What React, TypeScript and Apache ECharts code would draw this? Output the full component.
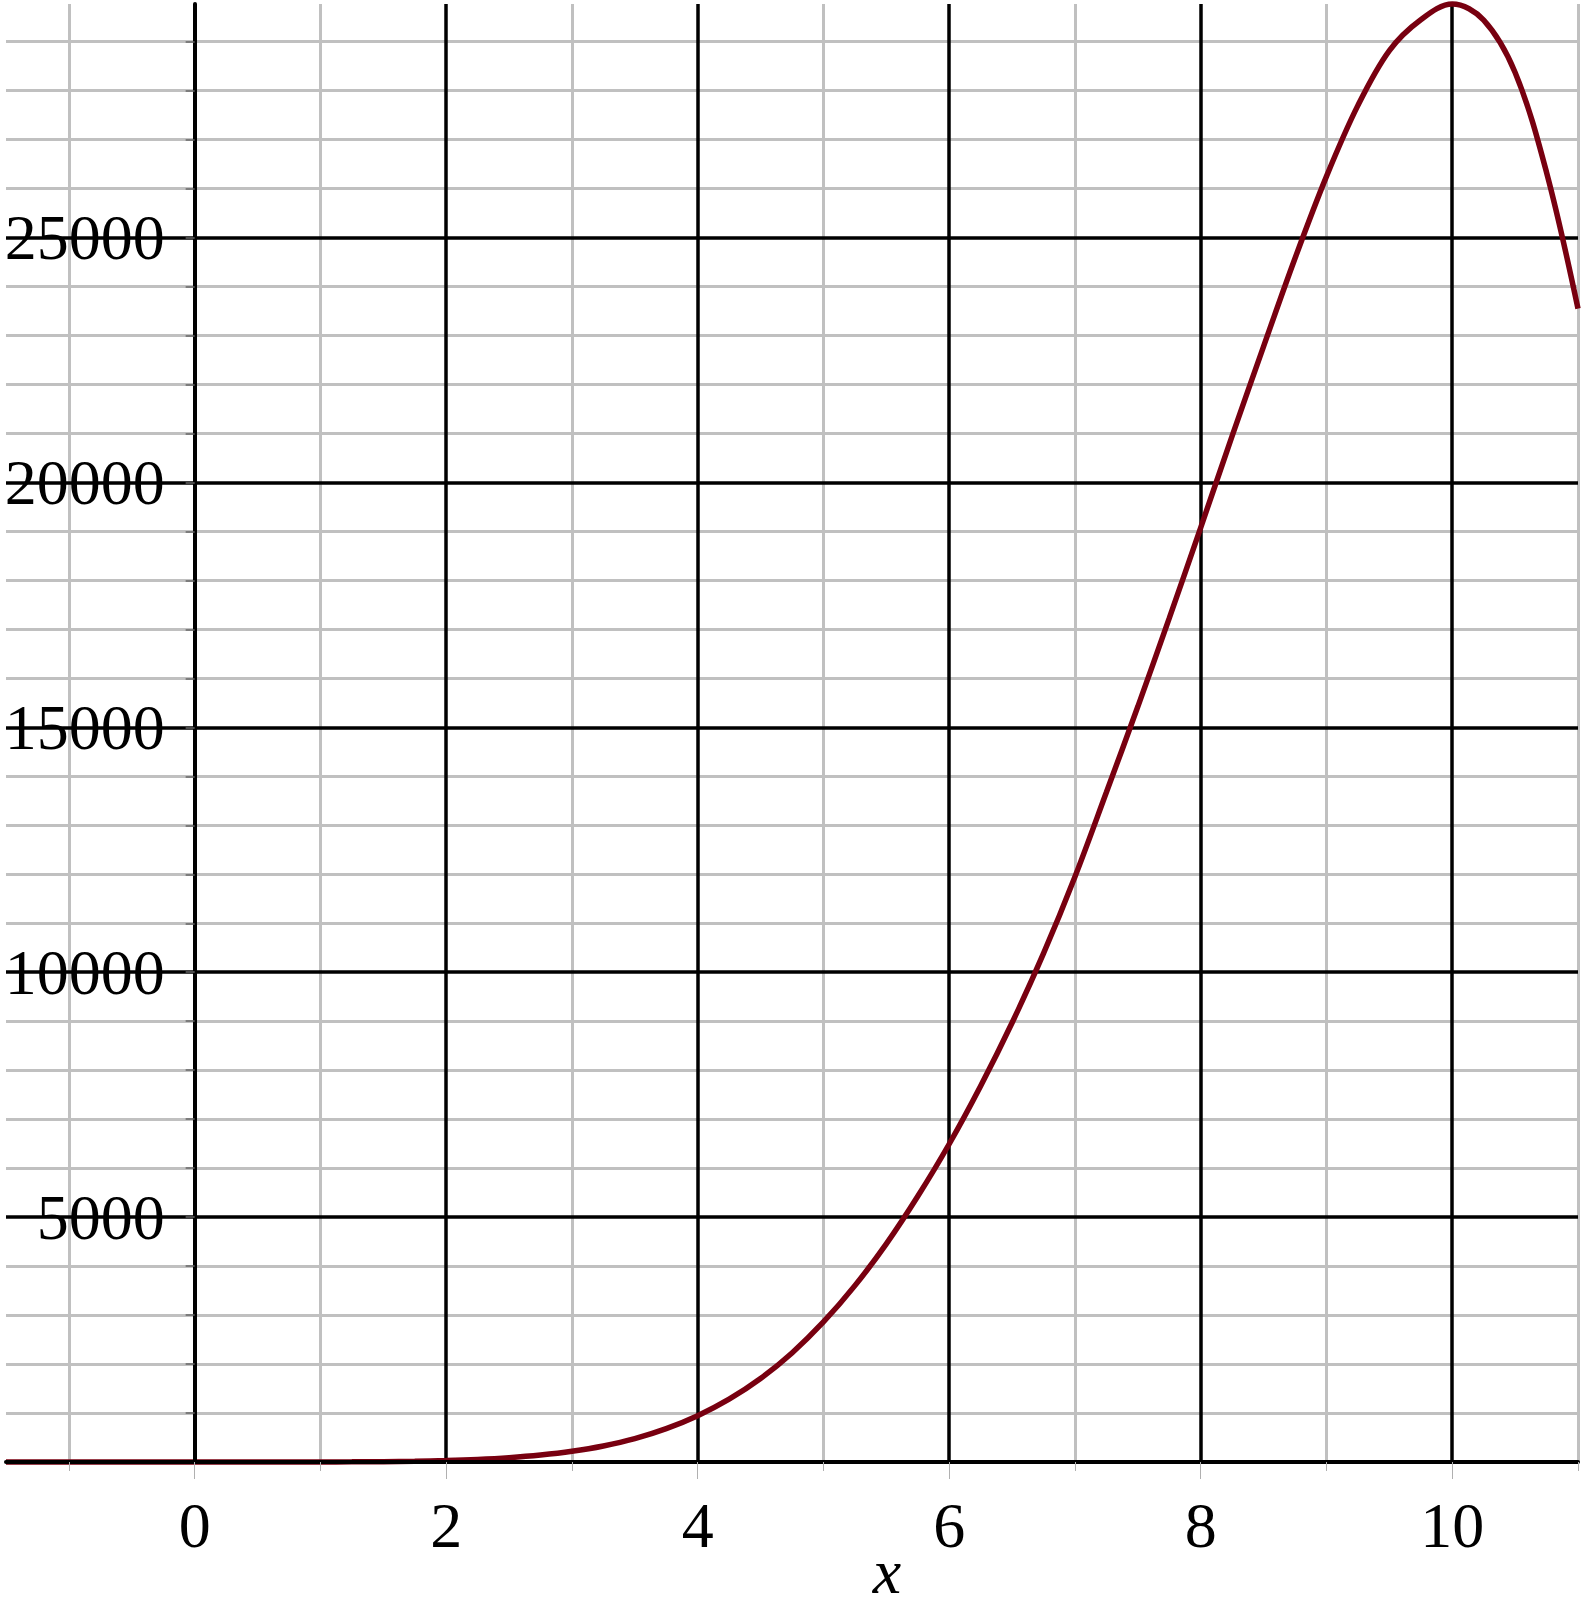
import React, { useEffect, useRef } from "react";
import * as echarts from "echarts";

// Curve samples
const curveX = [
  -1.5, -1, -0.5, 0, 0.5, 1, 1.25, 1.5, 1.75, 2, 2.25, 2.5, 2.75, 3, 3.25, 3.5, 3.75, 4,
  4.25, 4.5, 4.75, 5, 5.25, 5.5, 5.75, 6, 6.25, 6.5, 6.75, 7, 7.25, 7.5, 7.75, 8, 8.25,
  8.5, 8.75, 9, 9.25, 9.5, 9.75, 10, 10.25, 10.5, 10.75, 11,
];
const curveY = [
  0, 0, 0, 0, 0, 1, 3, 7, 15, 29, 52, 88, 142, 219, 328, 478, 682, 946,
  1283, 1705, 2227, 2859, 3601, 4454, 5425, 6493, 7677, 8969, 10384, 11950, 13675, 15425, 17229, 19080, 20950,
  22780, 24578, 26250, 27700, 28820, 29450, 29770, 29440, 28370, 26330, 23550,
];

const X_MIN = -1.5;
const X_MAX = 11;
const Y_MIN = 0;
const Y_MAX = 29770;

const xMinorLines = [-1, 1, 3, 5, 7, 9, 11];
const xMajorLines = [2, 4, 6, 8, 10];
const yMinorLines = [
  1000, 2000, 3000, 4000, 6000, 7000, 8000, 9000, 11000, 12000, 13000, 14000,
  16000, 17000, 18000, 19000, 21000, 22000, 23000, 24000, 26000, 27000, 28000, 29000,
];
const yMajorLines = [5000, 10000, 15000, 20000, 25000];

const xMinorTicks = [-1, 1, 3, 5, 7, 9, 11];
const xMajorTicks = [0, 2, 4, 6, 8, 10];
const xTickLabels = [0, 2, 4, 6, 8, 10];
const yTicks = [
  1000, 2000, 3000, 4000, 5000, 6000, 7000, 8000, 9000, 10000, 11000, 12000, 13000, 14000, 15000,
  16000, 17000, 18000, 19000, 20000, 21000, 22000, 23000, 24000, 25000, 26000, 27000, 28000, 29000,
];
const yTickLabels = [5000, 10000, 15000, 20000, 25000];

const FONT = '"Liberation Serif", "Times New Roman", serif';

const GRID_LEFT = 6;
const GRID_RIGHT = 5;
const PLOT_W = 1583 - GRID_LEFT - GRID_RIGHT;

export default function App() {
  const ref = useRef<HTMLDivElement>(null);

  useEffect(() => {
    if (!ref.current) return;
    const chart = echarts.init(ref.current, null, { renderer: "svg" });
    // y axis sits at x = 0 of the x axis
    const yAxisShift = ((0 - X_MIN) / (X_MAX - X_MIN)) * PLOT_W;
    const option: any = {
      animation: false,
      backgroundColor: "#ffffff",
      grid: {
        left: GRID_LEFT,
        right: GRID_RIGHT,
        top: 4,
        bottom: 147,
        containLabel: false,
        outerBoundsMode: "none",
      },
      xAxis: [
        {
          type: "value",
          min: X_MIN,
          max: X_MAX,
          z: 4,
          axisLine: { show: true, onZero: false, lineStyle: { color: "#000", width: 4 } },
          axisTick: { show: true, customValues: xMinorTicks, length: 9, lineStyle: { color: "#b0b0b0", width: 1 } },
          axisLabel: { show: false },
          splitLine: { show: false },
        },
        {
          type: "value",
          min: X_MIN,
          max: X_MAX,
          position: "bottom",
          z: 4,
          axisLine: { show: false, onZero: false },
          axisTick: { show: true, customValues: xMajorTicks, length: 17, lineStyle: { color: "#b0b0b0", width: 1 } },
          axisLabel: {
            show: true,
            customValues: xTickLabels,
            margin: 63,
            fontSize: 64,
            fontFamily: FONT,
            color: "#000",
            verticalAlign: "middle",
            formatter: (v: number) => String(v),
          },
          splitLine: { show: false },
        },
      ],
      yAxis: {
        type: "value",
        min: Y_MIN,
        max: Y_MAX,
        z: 4,
        position: "left",
        offset: -yAxisShift,
        axisLine: { show: true, onZero: false, lineStyle: { color: "#000", width: 4 } },
        axisTick: { show: true, customValues: yTicks, length: 9, lineStyle: { color: "#666", width: 1.5 } },
        axisLabel: {
          show: true,
          customValues: yTickLabels,
          margin: 30,
          fontSize: 64,
          fontFamily: FONT,
          color: "#000",
          verticalAlign: "middle",
          padding: [10, 0, 0, 0],
          formatter: (v: number) => String(v),
        },
        splitLine: { show: false },
      },
      graphic: [
        {
          type: "text",
          x: 887,
          y: 1571,
          style: {
            text: "x",
            font: 'italic 64px "Liberation Serif", "Times New Roman", serif',
            fill: "#000",
            textAlign: "center",
            textVerticalAlign: "middle",
          },
        },
      ],
      series: [
        {
          type: "line",
          data: [],
          silent: true,
          markLine: {
            silent: true,
            z: 1,
            symbol: ["none", "none"],
            label: { show: false },
            lineStyle: { color: "#c0c0c0", width: 3, type: "solid" },
            data: [
              ...xMinorLines.map((v) => ({ xAxis: v })),
              ...yMinorLines.map((v) => ({ yAxis: v })),
            ],
          },
        },
        {
          type: "line",
          data: [],
          silent: true,
          markLine: {
            silent: true,
            z: 2,
            symbol: ["none", "none"],
            label: { show: false },
            lineStyle: { color: "#000000", width: 3.5, type: "solid" },
            data: [
              ...xMajorLines.map((v) => ({ xAxis: v })),
              ...yMajorLines.map((v) => ({ yAxis: v })),
            ],
          },
        },
        {
          type: "line",
          z: 3,
          data: curveX.map((x, i) => [x, curveY[i]]),
          showSymbol: false,
          symbol: "none",
          smooth: 0.35,
          clip: false,
          lineStyle: { color: "#780010", width: 5.5 },
        },
      ],
    };
    chart.setOption(option);
    return () => chart.dispose();
  }, []);

  return (
    <div
      ref={ref}
      style={{ position: "absolute", left: 0, top: 0, width: 1583, height: 1609, background: "#fff" }}
    />
  );
}
